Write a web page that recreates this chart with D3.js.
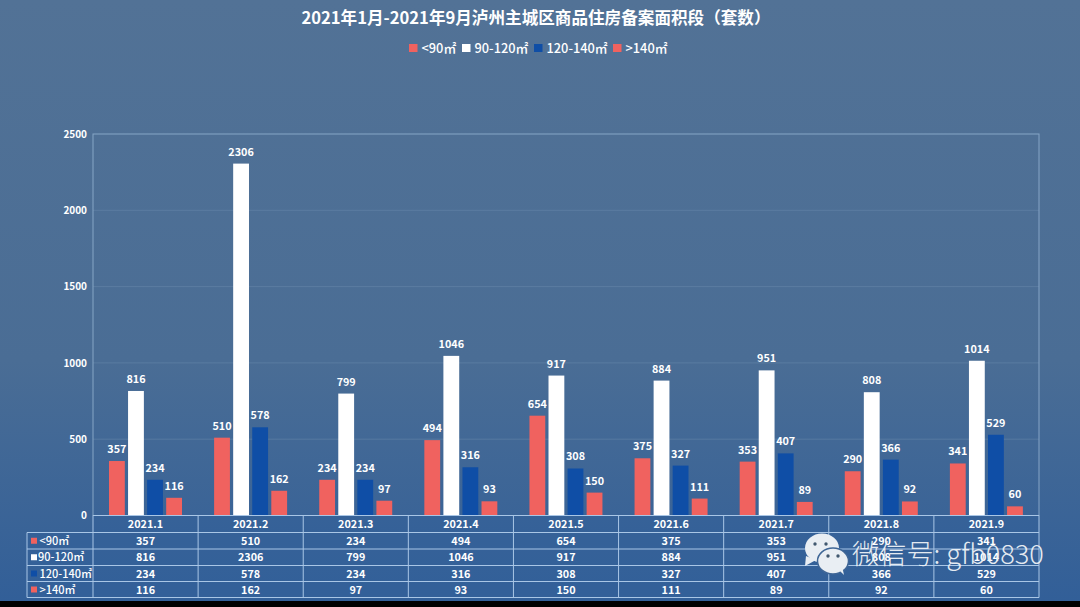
<!DOCTYPE html>
<html><head><meta charset="utf-8">
<script src="https://cdn.jsdelivr.net/npm/d3@7"></script>
<style>html,body{margin:0;padding:0;background:#000;overflow:hidden}svg{display:block}text{font-family:"Noto Sans CJK SC","Noto Sans",sans-serif}</style>
</head><body><div id="c"></div>
<script>
const categories=["2021.1","2021.2","2021.3","2021.4","2021.5","2021.6","2021.7","2021.8","2021.9"];
const seriesNames=["<90㎡","90-120㎡","120-140㎡",">140㎡"];
const seriesColors=["#f0625f","#ffffff","#0f4ea6","#f0625f"];
const under90=[357,510,234,494,654,375,353,290,341];
const from90to120=[816,2306,799,1046,917,884,951,808,1014];
const from120to140=[234,578,234,316,308,327,407,366,529];
const over140=[116,162,97,93,150,111,89,92,60];
const seriesValues=[under90,from90to120,from120to140,over140];
const yTicks=[0,500,1000,1500,2000,2500];
const titleText="2021年1月-2021年9月泸州主城区商品住房备案面积段（套数）";

const W=1080,H=607;
const svg=d3.select("#c").append("svg").attr("width",W).attr("height",H);
const defs=svg.append("defs");
const g=defs.append("linearGradient").attr("id","bg").attr("x1",0).attr("y1",0).attr("x2",0).attr("y2",1);
g.append("stop").attr("offset","0").attr("stop-color","#527296");
g.append("stop").attr("offset","0.6").attr("stop-color","#4a6d95");
g.append("stop").attr("offset","1").attr("stop-color","#325f98");
svg.append("rect").attr("width",W).attr("height",601).attr("fill","url(#bg)");
svg.append("rect").attr("y",601).attr("width",W).attr("height",6).attr("fill","#000");

const L=93,R=1039,T=134,B=515.5;
const x=d3.scaleBand().domain(categories).range([L,R]);
const x1=d3.scaleBand().domain(d3.range(4)).range([16,89]).paddingInner(0.17).paddingOuter(0);
const y=d3.scaleLinear().domain([0,2500]).range([B,T]);

// title
svg.append("text").attr("x",536).attr("y",23.5).attr("text-anchor","middle").attr("fill","#fff")
  .attr("font-size",16.6).attr("font-weight",700).text(titleText);

// legend
const legendX=[409,462,534,613];
const leg=svg.append("g");
seriesNames.forEach((n,i)=>{
  leg.append("rect").attr("x",legendX[i]).attr("y",44).attr("width",8.5).attr("height",8).attr("fill",seriesColors[i]);
  leg.append("text").attr("x",legendX[i]+12.5).attr("y",52.5).attr("fill","#fff").attr("font-size",12.8).attr("font-weight",500).text(n);
});

// grid
svg.append("g").selectAll("line").data(yTicks.filter(d=>d>0&&d<2500)).join("line")
  .attr("x1",L).attr("x2",R).attr("y1",d=>y(d)).attr("y2",d=>y(d))
  .attr("stroke","#6a8aad").attr("stroke-width",1).attr("opacity",.5);
svg.append("rect").attr("x",L).attr("y",T).attr("width",R-L).attr("height",B-T)
  .attr("fill","none").attr("stroke","#86a5c6").attr("stroke-width",1);

// y axis
const ax=svg.append("g").attr("transform",`translate(${L},0)`)
  .call(d3.axisLeft(y).tickValues(yTicks).tickFormat(d3.format("d")).tickSize(0).tickPadding(6));
ax.select(".domain").remove();
ax.selectAll("text").attr("fill","#fff").attr("font-size",10).attr("font-weight",700)
  .style("font-family",'"Noto Sans CJK SC","Noto Sans",sans-serif');

// bars + labels
seriesValues.forEach((vals,si)=>{
  const s=svg.append("g");
  s.selectAll("rect").data(vals).join("rect")
    .attr("x",(d,i)=>x(categories[i])+x1(si)).attr("width",x1.bandwidth())
    .attr("y",d=>y(d)).attr("height",d=>B-y(d)).attr("fill",seriesColors[si]);
  s.selectAll("text").data(vals).join("text")
    .attr("x",(d,i)=>x(categories[i])+x1(si)+x1.bandwidth()/2).attr("y",d=>y(d)-8)
    .attr("text-anchor","middle").attr("fill","#fff").attr("font-size",10.8).attr("font-weight",700).text(d=>d);
});

// data table
const tableL=27;
const rowEdges=[515.5,532.5,549,565.5,581.5,597.5];
const tbl=svg.append("g");
tbl.append("rect").attr("x",L).attr("y",rowEdges[0]).attr("width",R-L).attr("height",rowEdges[1]-rowEdges[0]).attr("fill","#33609a").attr("opacity",.6);
tbl.append("rect").attr("x",tableL).attr("y",rowEdges[1]).attr("width",R-tableL).attr("height",rowEdges[5]-rowEdges[1]).attr("fill","#33609a").attr("opacity",.6);
const lineC="#a9c6e6";
rowEdges.forEach((yy,i)=>tbl.append("line").attr("x1",i===0?L:tableL).attr("x2",R).attr("y1",yy).attr("y2",yy).attr("stroke",lineC).attr("stroke-width",1));
tbl.append("line").attr("x1",tableL).attr("x2",tableL).attr("y1",rowEdges[1]).attr("y2",rowEdges[5]).attr("stroke",lineC);
categories.concat(["end"]).forEach((c,i)=>{
  const xx=i<categories.length?x(c):R;
  tbl.append("line").attr("x1",xx).attr("x2",xx).attr("y1",rowEdges[0]).attr("y2",rowEdges[5]).attr("stroke",lineC);
});
categories.forEach(c=>{
  tbl.append("text").attr("x",x(c)+x.bandwidth()/2).attr("y",528).attr("text-anchor","middle")
    .attr("fill","#fff").attr("font-size",10.8).attr("font-weight",700).text(c);
});
seriesValues.forEach((vals,si)=>{
  const my=(rowEdges[si+1]+rowEdges[si+2])/2;
  tbl.append("rect").attr("x",31).attr("y",my-3).attr("width",6).attr("height",6).attr("fill",seriesColors[si]);
  tbl.append("text").attr("x",si===1?38:39.5).attr("y",my+4).attr("fill","#fff").attr("font-size",11).attr("font-weight",500).text(seriesNames[si]);
  vals.forEach((v,i)=>{
    tbl.append("text").attr("x",x(categories[i])+x.bandwidth()/2).attr("y",my+4).attr("text-anchor","middle")
      .attr("fill","#fff").attr("font-size",10.8).attr("font-weight",700).text(v);
  });
});

// watermark
const wm=svg.append("g").attr("fill","#e9eef3");
wm.append("ellipse").attr("cx",822).attr("cy",548).attr("rx",17).attr("ry",14.5);
wm.append("path").attr("d","M806 556 L805 566 L816 560 Z");
wm.append("ellipse").attr("cx",833).attr("cy",561).attr("rx",15.5).attr("ry",13).attr("stroke","#3f6696").attr("stroke-width",1.5);
wm.append("path").attr("d","M840 571 L844 575 L842 566 Z");
[[815,544],[826,544],[828,556],[838,556]].forEach(p=>wm.append("circle").attr("cx",p[0]).attr("cy",p[1]).attr("r",1.7).attr("fill","#41586f"));
svg.append("text").attr("x",852).attr("y",564).attr("fill","#eef2f6").attr("font-size",27.2).attr("font-weight",300)
  .attr("opacity",.95).text("微信号: gfb0830");
</script></body></html>
